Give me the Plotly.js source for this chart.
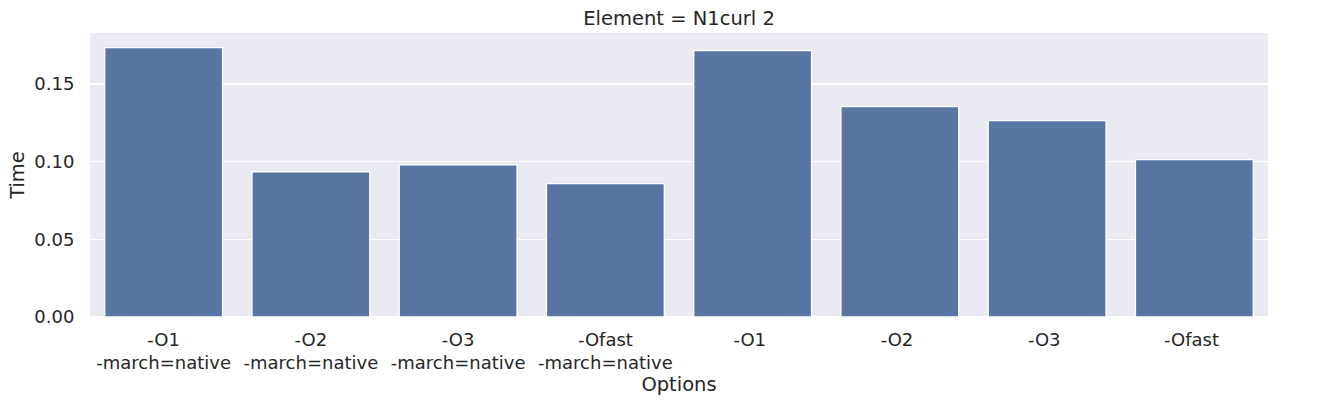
<!DOCTYPE html>
<html>
<head>
<meta charset="utf-8">
<script src="https://cdn.plot.ly/plotly-3.0.1.min.js"></script>
<style>html,body{margin:0;padding:0;background:#fff;}#chart{width:1330px;height:405px;}</style>
</head>
<body>
<div id="chart"></div>
<script>
const categories = ["-O1<br>-march=native", "-O2<br>-march=native", "-O3<br>-march=native", "-Ofast<br>-march=native", "-O1 ", "-O2 ", "-O3 ", "-Ofast "];
const times = [0.1734, 0.0935, 0.0979, 0.0858, 0.1715, 0.1354, 0.1264, 0.1013];
const yTicks = [0, 0.05, 0.10, 0.15];
const yTickText = ["0.00", "0.05", "0.10", "0.15"];

const font = {family: "DejaVu Sans, sans-serif", size: 18, color: "#262626"};
const labelFont = {family: "DejaVu Sans, sans-serif", size: 19.5, color: "#262626"};

Plotly.newPlot("chart", [{
  type: "bar",
  x: categories,
  y: times,
  width: 0.8,
  marker: {color: "rgb(89,117,164)", line: {color: "#ffffff", width: 1.3}},
  hoverinfo: "skip"
}], {
  width: 1330, height: 405,
  margin: {l: 90, r: 62, t: 33, b: 88, pad: 0},
  paper_bgcolor: "#ffffff",
  plot_bgcolor: "#eaeaf2",
  font: font,
  showlegend: false,
  title: {text: "Element = N1curl 2", font: labelFont, x: 0.5, xref: "paper", y: 0.955, yref: "container", yanchor: "middle"},
  xaxis: {
    type: "category",
    range: [-0.5, 7.5],
    showgrid: false,
    zeroline: false,
    showline: false,
    ticks: "outside", ticklen: 6, tickcolor: "rgba(0,0,0,0)",
    tickfont: font,
    title: {text: "Options", font: labelFont, standoff: 3}
  },
  yaxis: {
    range: [0, 0.1828],
    tickvals: yTicks,
    ticktext: yTickText,
    showgrid: true, gridcolor: "#ffffff", gridwidth: 1.3,
    zeroline: true, zerolinecolor: "#ffffff", zerolinewidth: 1.3,
    showline: false,
    ticks: "outside", ticklen: 11, tickcolor: "rgba(0,0,0,0)",
    tickfont: font,
    title: {text: "Time", font: labelFont, standoff: 4}
  }
}, {displayModeBar: false, staticPlot: true});
</script>
</body>
</html>
